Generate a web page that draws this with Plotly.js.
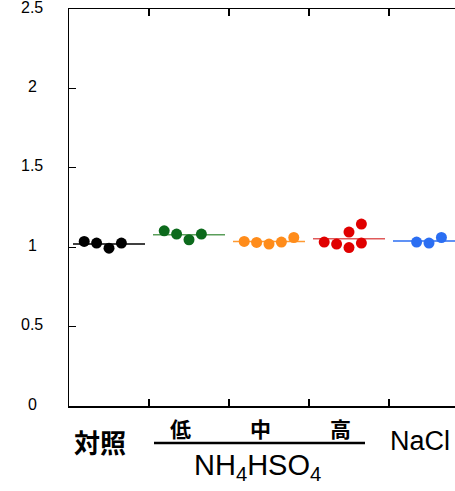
<!DOCTYPE html>
<html>
<head>
<meta charset="utf-8">
<script src="https://cdn.plot.ly/plotly-3.0.1.min.js"></script>
<style>html,body{margin:0;padding:0;background:#fff;}#chart{width:455px;height:491px;}</style>
</head>
<body>
<div id="chart"></div>
<script>
// ---- data ----
const categories = ['対照', '低', '中', '高', 'NaCl'];
const ctrlValues = [1.036, 1.026, 0.994, 1.026];
const lowValues  = [1.103, 1.083, 1.047, 1.083];
const midValues  = [1.036, 1.030, 1.020, 1.032, 1.061];
const highValues = [1.032, 1.020, 1.095, 0.998, 1.146, 1.026];
const naclValues = [1.032, 1.026, 1.061];
// jitter slot of each point within its category
const ctrlSlots = [-2, -1, 0, 1];
const lowSlots  = [-2, -1, 0, 1];
const midSlots  = [-2, -1, 0, 1, 2];
const highSlots = [-2, -1, 0, 0, 1, 1];
const naclSlots = [-1, 0, 1];
const yTickVals = [0, 0.5, 1, 1.5, 2, 2.5];
const yTickText = ['0', '0.5', '1', '1.5', '2', '2.5'];
const groupTitle = 'NH<sub>4</sub>HSO<sub>4</sub>';

// ---- styles ----
const dotColors  = ['#000000', '#0c6a1c', '#ff8c1a', '#e00000', '#2b6ef2'];
const lineColors = ['#000000', '#5a9e5a', '#ff9a33', '#e05a5a', '#2b6ef2'];
const slotStep = 0.155;
const halfLine = 0.45;
const FONT = 'Liberation Sans, Arial, sans-serif';
const CJK = 'Noto Sans CJK JP, Noto Sans CJK SC, sans-serif';

const groups = [
  [ctrlValues, ctrlSlots], [lowValues, lowSlots], [midValues, midSlots],
  [highValues, highSlots], [naclValues, naclSlots]
];

const traces = [];
groups.forEach(([vals, slots], i) => {
  const c = i + 1;
  const mean = vals.reduce((a, b) => a + b, 0) / vals.length;
  traces.push({
    x: [c - halfLine, c + halfLine], y: [mean, mean], mode: 'lines',
    line: {color: lineColors[i], width: 1.5}, hoverinfo: 'skip', showlegend: false
  });
});
groups.forEach(([vals, slots], i) => {
  const c = i + 1;
  traces.push({
    x: slots.map(s => c + s * slotStep), y: vals, mode: 'markers',
    marker: {color: dotColors[i], size: 11, line: {width: 0}},
    showlegend: false, cliponaxis: false
  });
});

const annotations = [];
yTickVals.forEach((v, i) => {
  annotations.push({
    xref: 'paper', yref: 'y', x: 0, y: v, xshift: -37, yshift: 2, xanchor: 'center', yanchor: 'middle',
    text: yTickText[i], showarrow: false, font: {family: FONT, size: 16, color: '#000'}
  });
});
// category labels
categories.forEach((t, i) => {
  const isSub = i >= 1 && i <= 3;
  const isCjk = i <= 3;
  annotations.push({
    xref: 'x', yref: 'paper', x: i + 1, y: 0, xshift: -9,
    yshift: isSub ? -22 : -35, xanchor: 'center', yanchor: 'middle',
    text: isCjk ? '<b>' + t + '</b>' : t, showarrow: false,
    font: {family: isCjk ? CJK : FONT, size: isSub ? 21 : (isCjk ? 26 : 27), color: '#000'}
  });
});
annotations.push({
  xref: 'x', yref: 'paper', x: 3, y: 0, xshift: -12, yshift: -61,
  xanchor: 'center', yanchor: 'middle', text: groupTitle, showarrow: false,
  font: {family: FONT, size: 29, color: '#000'}
});

const layout = {
  width: 455, height: 491,
  margin: {l: 69, r: 0, t: 9, b: 85},
  paper_bgcolor: '#fff', plot_bgcolor: '#fff',
  font: {family: FONT, color: '#000'},
  xaxis: {
    range: [0.5, 5.325], showgrid: false, zeroline: false,
    showline: true, linecolor: '#000', linewidth: 1.5, mirror: 'ticks',
    tickvals: [1.5, 2.5, 3.5, 4.5], ticks: 'inside', ticklen: 7, tickwidth: 1.2,
    tickcolor: '#000', showticklabels: false, fixedrange: true
  },
  yaxis: {
    range: [0, 2.5], showgrid: false, zeroline: false,
    showline: true, linecolor: '#000', linewidth: 1.5,
    tickvals: yTickVals, ticks: 'inside', ticklen: 7, tickwidth: 1.2, tickcolor: '#000',
    showticklabels: false, fixedrange: true
  },
  shapes: [{
    type: 'line', xref: 'x', yref: 'paper', x0: 1.5625, x1: 4.2, y0: -0.093, y1: -0.093,
    line: {color: '#000', width: 2.5}
  }],
  annotations: annotations
};

Plotly.newPlot('chart', traces, layout, {displayModeBar: false, staticPlot: true});
</script>
</body>
</html>
